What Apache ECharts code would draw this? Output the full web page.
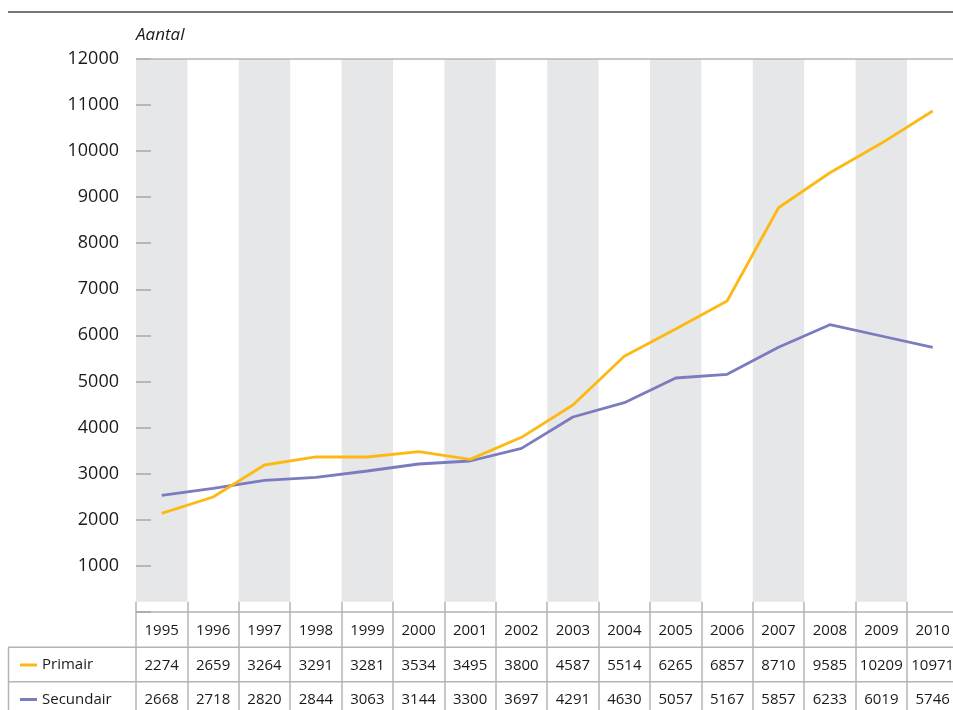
<!DOCTYPE html>
<html>
<head>
<meta charset="utf-8">
<script src="https://cdn.jsdelivr.net/npm/echarts@6/dist/echarts.min.js"></script>
<style>
  html, body { margin: 0; padding: 0; background: #fff; }
  #chart { width: 953px; height: 710px; }
</style>
</head>
<body>
<div id="chart"></div>
<script>
// jaren (categorieen)
const years = ['1995', '1996', '1997', '1998', '1999', '2000', '2001', '2002',
  '2003', '2004', '2005', '2006', '2007', '2008', '2009', '2010']

// waarden zoals de lijnen ze tonen
const primairLine = [2136, 2490, 3185, 3359, 3359, 3474, 3308, 3786,
  4487, 5545, 6138, 6746, 8771, 9531, 10169, 10871]
const secundairLine = [2527, 2679, 2852, 2918, 3055, 3207, 3272, 3547,
  4227, 4538, 5074, 5154, 5740, 6231, 5986, 5740]

// waarden in de tabel onder de grafiek
const primairTabel = [2274, 2659, 3264, 3291, 3281, 3534, 3495, 3800,
  4587, 5514, 6265, 6857, 8710, 9585, 10209, 10971]
const secundairTabel = [2668, 2718, 2820, 2844, 3063, 3144, 3300, 3697,
  4291, 4630, 5057, 5167, 5857, 6233, 6019, 5746]

const yMin = 0
const yMax = 12000
const yStep = 1000

const FONT = '"Open Sans", "Noto Sans", sans-serif'
const TEXT = '#1a1a18'
const GRID_GRAY = '#b4b4b4'
const BAND = '#e6e7e8'
const YELLOW = '#fdb913'
const PURPLE = '#7b7bbf'

const chart = echarts.init(document.getElementById('chart'), null, { renderer: 'canvas' })

const plotLeft = 136
const plotWidth = 822.4

const option = {
  animation: false,
  textStyle: { fontFamily: FONT, color: TEXT },
  title: {
    text: 'Aantal',
    left: 136,
    top: 27,
    padding: 0,
    textStyle: { fontFamily: FONT, fontStyle: 'italic', fontWeight: 'normal', fontSize: 17, color: TEXT }
  },
  legend: {
    orient: 'vertical',
    left: 20,
    top: 655,
    padding: 0,
    itemWidth: 17,
    itemHeight: 3,
    itemGap: 14.5,
    icon: 'rect',
    textStyle: { fontFamily: FONT, fontSize: 15, color: TEXT, lineHeight: 20 },
    data: ['Primair', 'Secundair']
  },
  grid: [
    // lijnen + assen
    { left: plotLeft, width: plotWidth, top: 59, height: 552.7, outerBoundsMode: 'none' },
    // grijze banden
    { left: plotLeft, width: plotWidth, top: 59, height: 542.7, outerBoundsMode: 'none' },
    // verticale tabellijnen
    { left: plotLeft, width: plotWidth, top: 601.7, height: 110, outerBoundsMode: 'none' }
  ],
  xAxis: [
    {
      gridIndex: 0,
      type: 'category',
      data: years,
      boundaryGap: true,
      axisLine: { show: true, lineStyle: { color: GRID_GRAY, width: 1.5 } },
      axisTick: { show: false },
      splitLine: { show: false },
      axisLabel: {
        interval: 0,
        margin: 2,
        fontFamily: FONT,
        fontSize: 15,
        lineHeight: 34.5,
        color: TEXT,
        formatter: (value, index) => [value, primairTabel[index], secundairTabel[index]].join('\n')
      }
    },
    {
      gridIndex: 1,
      type: 'category',
      data: years,
      boundaryGap: true,
      axisLine: { show: false },
      axisTick: { show: false },
      axisLabel: { show: false },
      splitArea: { show: true, interval: 0, areaStyle: { color: [BAND, 'rgba(255,255,255,0)'] } }
    },
    {
      gridIndex: 2,
      type: 'category',
      data: years,
      boundaryGap: true,
      axisLine: { show: false },
      axisTick: { show: false },
      axisLabel: { show: false },
      splitLine: { show: true, interval: 0, lineStyle: { color: GRID_GRAY, width: 1.5 } }
    }
  ],
  yAxis: [
    {
      gridIndex: 0,
      type: 'value',
      min: yMin,
      max: yMax,
      interval: yStep,
      axisLine: { show: false },
      axisTick: { show: true, inside: true, length: 15, lineStyle: { color: '#a8a8a8', width: 1.5 } },
      splitLine: { show: false },
      axisLabel: {
        margin: 17,
        fontFamily: FONT,
        fontSize: 18,
        color: TEXT,
        formatter: v => (v === 0 ? '' : String(v))
      }
    },
    { gridIndex: 1, type: 'value', show: false, min: yMin, max: yMax },
    { gridIndex: 2, type: 'value', show: false, min: 0, max: 1 }
  ],
  series: [
    {
      name: 'Primair',
      type: 'line',
      xAxisIndex: 0,
      yAxisIndex: 0,
      data: primairLine,
      symbol: 'none',
      color: YELLOW,
      lineStyle: { color: YELLOW, width: 2.8 },
      z: 4,
      markLine: {
        silent: true,
        symbol: 'none',
        label: { show: false },
        lineStyle: { color: GRID_GRAY, width: 1.5, type: 'solid' },
        data: [{ yAxis: yMax }]
      }
    },
    {
      name: 'Secundair',
      type: 'line',
      xAxisIndex: 0,
      yAxisIndex: 0,
      data: secundairLine,
      symbol: 'none',
      color: PURPLE,
      lineStyle: { color: PURPLE, width: 2.8 },
      z: 3
    }
  ],
  graphic: [
    { type: 'line', shape: { x1: 8, y1: 12, x2: 953, y2: 12 }, style: { stroke: '#4a4a4a', lineWidth: 1.5 } },
    { type: 'line', shape: { x1: 8, y1: 647.3, x2: 953, y2: 647.3 }, style: { stroke: GRID_GRAY, lineWidth: 1.5 } },
    { type: 'line', shape: { x1: 8, y1: 681.7, x2: 953, y2: 681.7 }, style: { stroke: GRID_GRAY, lineWidth: 1.5 } },
    { type: 'line', shape: { x1: 8.5, y1: 647.3, x2: 8.5, y2: 710 }, style: { stroke: GRID_GRAY, lineWidth: 1.5 } }
  ]
}

chart.setOption(option)
</script>
</body>
</html>
